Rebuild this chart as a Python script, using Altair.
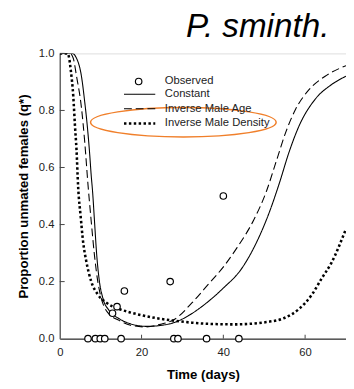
import altair as alt
import pandas as pd

# ---- data ----
obs_t = [6.9, 8.7, 9.9, 11.0, 12.9, 14.0, 15.0, 15.8, 27.0, 27.9, 28.9, 35.9, 40.0, 43.8]
obs_q = [0.0, 0.0, 0.0, 0.0, 0.089, 0.112, 0.0, 0.167, 0.2, 0.0, 0.0, 0.0, 0.5, 0.0]

const_t = [0, 3.0, 4.1, 5.3, 6.1, 6.7, 7.3, 7.7, 8.0, 8.5, 9.0, 9.7, 10.5, 12.1, 14.5, 17.3,
           21.2, 24.5, 28.3, 32.3, 36.3, 40.2, 44.2, 48.2, 51.3, 53.7, 56.1, 58.5, 62.5, 66.4, 70]
const_q = [1.0, 1.0, 0.983, 0.92, 0.83, 0.75, 0.65, 0.57, 0.52, 0.41, 0.30, 0.20, 0.144, 0.098, 0.07, 0.052,
           0.043, 0.046, 0.058, 0.088, 0.13, 0.18, 0.24, 0.34, 0.445, 0.545, 0.655, 0.745, 0.84, 0.89, 0.92]

age_t = [0, 2.5, 3.3, 4.1, 5.3, 6.1, 6.9, 7.7, 8.5, 9.3, 10.1, 11.7, 14.5, 17.3, 21.0, 24.5,
         28.3, 32.3, 36.3, 40.2, 43.4, 47.4, 50.5, 52.9, 55.3, 57.7, 60.9, 64.9, 70]
age_q = [1.0, 1.0, 0.983, 0.92, 0.81, 0.69, 0.54, 0.41, 0.29, 0.20, 0.144, 0.092, 0.064, 0.047, 0.041, 0.05,
         0.07, 0.125, 0.19, 0.255, 0.32, 0.415, 0.515, 0.62, 0.725, 0.805, 0.872, 0.92, 0.957]

dens_t = [0, 1.8, 2.2, 2.7, 3.3, 3.7, 4.1, 4.5, 5.1, 5.7, 6.5, 7.7, 9.3, 11.3, 14.5, 17.2, 20.4,
          24.4, 27.5, 32.3, 36.3, 42.6, 46.5, 50.5, 54.5, 58.5, 61.7, 64.0, 66.4, 70]
dens_q = [1.0, 1.0, 0.99, 0.94, 0.85, 0.75, 0.66, 0.53, 0.43, 0.34, 0.27, 0.20, 0.155, 0.127, 0.104, 0.092, 0.081,
          0.07, 0.064, 0.056, 0.052, 0.05, 0.052, 0.058, 0.07, 0.104, 0.155, 0.21, 0.265, 0.385]

models = ["Constant", "Inverse Male Age", "Inverse Male Density"]
x_ticks = [0, 20, 40, 60]
y_ticks = [0.0, 0.2, 0.4, 0.6, 0.8, 1.0]
chart_title = ["P. sminth."]

FONT = "Liberation Sans"

lines_df = pd.concat([
    pd.DataFrame({"model": models[0], "t": const_t, "q": const_q}),
    pd.DataFrame({"model": models[1], "t": age_t, "q": age_q}),
    pd.DataFrame({"model": models[2], "t": dens_t, "q": dens_q}),
])
obs_df = pd.DataFrame({"t": obs_t, "q": obs_q, "kind": "Observed"})
xt_df = pd.DataFrame({"t": x_ticks[1:]})
yt_df = pd.DataFrame({"q": y_ticks[1:]})
hl_df = pd.DataFrame({"label": ["Inverse Male Density"]})
title_df = pd.DataFrame({"title": chart_title})

xscale = alt.Scale(domain=[0, 70], nice=False)
yscale = alt.Scale(domain=[0, 1], nice=False)

x_axis = alt.Axis(values=x_ticks, format="d", ticks=False, tickSize=0, labelPadding=8,
                  labelFontSize=11.5, labelFont=FONT, labelColor="#222", labelFlush=False,
                  domainColor="black", domainWidth=1, grid=False,
                  title="Time (days)", titleFont=FONT, titleFontSize=13.5, titleFontWeight="bold",
                  titleColor="black", titleY=41, titleBaseline="alphabetic")
y_axis = alt.Axis(values=y_ticks, format=".1f", ticks=False, tickSize=0, labelPadding=6,
                  labelFontSize=11.5, labelFont=FONT, labelColor="#222", labelFlush=False,
                  domainColor="#666", domainWidth=1.5, grid=False,
                  title="Proportion unmated females (q*)", titleFont=FONT, titleFontSize=13.5,
                  titleFontWeight="bold", titleColor="black", titleX=-37.5, titleBaseline="middle")


def X(f="t:Q"):
    return alt.X(f, scale=xscale, axis=x_axis)


def Y(f="q:Q"):
    return alt.Y(f, scale=yscale, axis=y_axis)


line_legend = alt.Legend(orient="none", legendX=76, legendY=36, title=None,
                         labelFont=FONT, labelFontSize=11.5, labelColor="#222",
                         symbolType="M-4,0L4,0", symbolSize=64,
                         symbolStrokeColor="black", labelOffset=20,
                         rowPadding=2, padding=0)

lines = alt.Chart(lines_df).mark_line(color="black", interpolate="monotone", clip=True).encode(
    x=X(), y=Y(),
    strokeDash=alt.StrokeDash("model:O", scale=alt.Scale(type="ordinal", domain=models,
                                                         range=[[1, 0], [8, 4], [2.5, 2.5]]),
                              legend=line_legend),
    strokeWidth=alt.StrokeWidth("model:O", scale=alt.Scale(type="ordinal", domain=models,
                                                           range=[1.1, 1.1, 2.6]),
                                legend=line_legend),
)

points = alt.Chart(obs_df).mark_point(shape="circle", filled=False, fill="white",
                                      strokeWidth=1.2, size=44, opacity=1).encode(
    x=X(), y=Y(),
    shape=alt.Shape("kind:N", scale=alt.Scale(domain=["Observed"], range=["circle"]),
                    legend=alt.Legend(orient="none", legendX=75, legendY=23, title=None,
                                      labelFont=FONT, labelFontSize=11.5, labelColor="#222",
                                      symbolSize=44, symbolStrokeWidth=1.2,
                                      labelOffset=21, padding=0)),
    stroke=alt.Stroke("kind:N", scale=alt.Scale(domain=["Observed"], range=["black"]),
                      legend=alt.Legend(orient="none", legendX=75, legendY=23, title=None,
                                        labelFont=FONT, labelFontSize=11.5, labelColor="#222",
                                        symbolSize=44, symbolStrokeWidth=1.2,
                                        labelOffset=21, padding=0)),
)

xticks = alt.Chart(xt_df).mark_rule(color="#444", strokeWidth=1).encode(
    x=X(), y=alt.value(292), y2=alt.value(288))
yticks = alt.Chart(yt_df).mark_rule(color="#444", strokeWidth=1).encode(
    y=Y(), x=alt.value(0), x2=alt.value(5))

ellipse = alt.Chart(hl_df).mark_point(
    shape="M -1 0 A 1 0.158 0 1 0 1 0 A 1 0.158 0 1 0 -1 0 Z",
    size=36100, filled=False, stroke="#F07F2A", strokeWidth=1.5, opacity=1,
).encode(x=alt.value(126.5), y=alt.value(70.5))

title = alt.Chart(title_df).mark_text(
    align="right", baseline="alphabetic", font=FONT, fontSize=34, fontStyle="italic", color="black",
).encode(text="title:N", x=alt.value(276), y=alt.value(-16.5))

chart = alt.layer(lines, xticks, yticks, points, ellipse, title).properties(
    width=293, height=292,
    autosize=alt.AutoSizeParams(type="none"),
    padding={"left": 53, "top": 42, "right": 0, "bottom": 44},
).configure_view(stroke=None).configure(background="white")

chart.save("out.html", embed_options={"renderer": "svg", "actions": False})
